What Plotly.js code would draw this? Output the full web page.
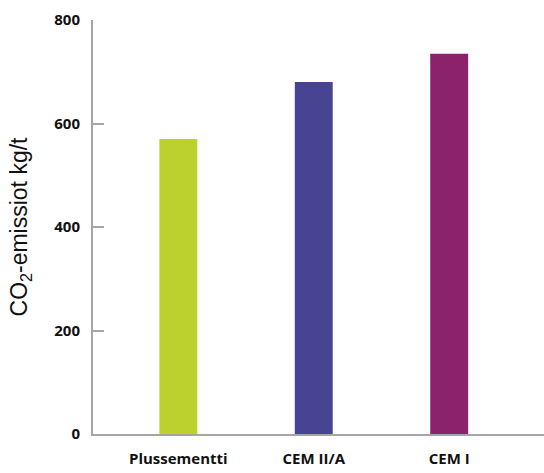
<!DOCTYPE html>
<html>
<head>
<meta charset="utf-8">
<script src="https://cdn.plot.ly/plotly-3.0.1.min.js"></script>
<style>html,body{margin:0;padding:0;background:#fff;}#chart{width:544px;height:473px;}</style>
</head>
<body>
<div id="chart"></div>
<script>
const categories = ["Plussementti", "CEM II/A", "CEM I"];
const values = [570, 680, 735];
const colors = ["#bcd12e", "#474494", "#8c226c"];
const yTicks = [0, 200, 400, 600, 800];

const trace = {
  type: "bar",
  x: categories,
  y: values,
  marker: {color: colors},
  width: 0.28,
  hoverinfo: "x+y"
};

const tickFont = {size: 15, family: "'Open Sans', Roboto, sans-serif", weight: 700, color: "#111"};

const layout = {
  width: 544,
  height: 473,
  margin: {l: 93, r: 0, t: 20, b: 39, pad: 0},
  paper_bgcolor: "#fff",
  plot_bgcolor: "#fff",
  showlegend: false,
  font: {family: "'Open Sans', Roboto, sans-serif", color: "#111"},
  xaxis: {
    range: [-0.63, 2.70],
    showline: true,
    linecolor: "#a6a6a6",
    linewidth: 2,
    showgrid: false,
    zeroline: false,
    ticks: "",
    ticklabelstandoff: 10,
    tickfont: tickFont
  },
  yaxis: {
    range: [0, 800],
    tickvals: yTicks,
    ticktext: yTicks.map(String),
    showline: true,
    linecolor: "#a6a6a6",
    linewidth: 2,
    showgrid: false,
    zeroline: false,
    ticks: "inside",
    ticklen: 11,
    tickwidth: 2,
    tickcolor: "#a6a6a6",
    ticklabelstandoff: 8,
    tickfont: tickFont,
    title: {
      text: "CO<sub>2</sub>-emissiot kg/t",
      font: {size: 23, family: "'Liberation Sans', Arial, sans-serif", color: "#111"},
      standoff: 20
    }
  }
};

Plotly.newPlot("chart", [trace], layout, {displayModeBar: false, staticPlot: true});
</script>
</body>
</html>
